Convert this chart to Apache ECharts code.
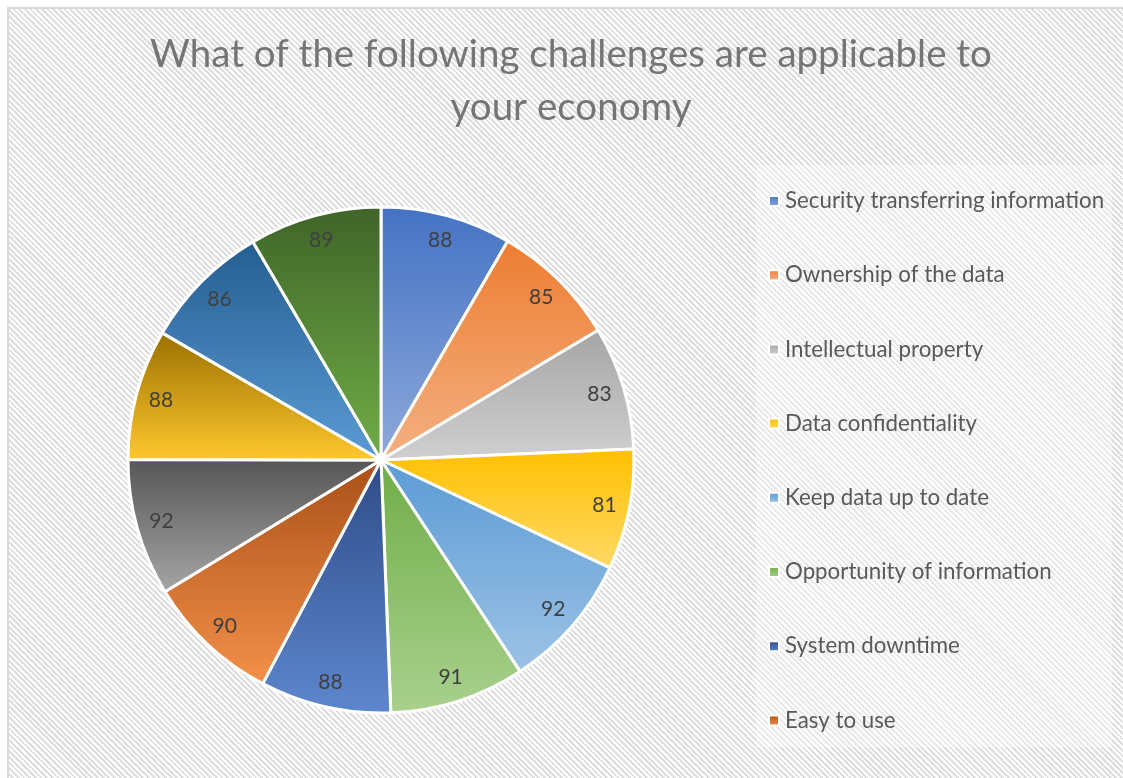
<!DOCTYPE html>
<html>
<head>
<meta charset="utf-8">
<script src="https://cdn.jsdelivr.net/npm/echarts@6/dist/echarts.min.js"></script>
<style>
  html, body { margin: 0; padding: 0; background: #ffffff; }
  #frame {
    position: absolute; left: 7px; top: 7px; width: 1130px; height: 790px;
    box-sizing: border-box; border: 2px solid #d9d9d9;
    background: repeating-linear-gradient(45deg, #ffffff 0px, #ffffff 2px, #dedede 2px, #dedede 4px);
  }
  #chart { position: absolute; left: 0; top: 0; width: 1123px; height: 778px; }
</style>
</head>
<body>
<div id="frame"></div>
<div id="chart"></div>
<script>
// ---- data ----
const titleLines = ['What of the following challenges are applicable to', 'your economy'];
const categories = [
  'Security transferring information',
  'Ownership of the data',
  'Intellectual property',
  'Data confidentiality',
  'Keep data up to date',
  'Opportunity of information',
  'System downtime',
  'Easy to use',
  'Item 9',
  'Item 10',
  'Item 11',
  'Item 12'
];
const values = [88, 85, 83, 81, 92, 91, 88, 90, 92, 88, 86, 89];
const legendShown = categories.slice(0, 8);
// gradient colours (top, bottom) per slice
const topColors = ['#4472C4', '#ED7D31', '#A5A5A5', '#FFC000', '#5B9BD5', '#70AD47',
                   '#2E4B86', '#A84F18', '#555555', '#9A7000', '#255E91', '#3F6428'];
const bottomColors = ['#8EA9DB', '#F4B183', '#D0D0D0', '#FFD966', '#9DC3E6', '#A9D18E',
                      '#5E87CF', '#F4914A', '#A6A6A6', '#FFC82E', '#5B9BD5', '#70AD47'];

const chart = echarts.init(document.getElementById('chart'), null, { renderer: 'canvas' });
const FONT = 'Lato';

const mainData = categories.map((name, i) => ({
  name: name,
  value: values[i],
  itemStyle: {
    color: new echarts.graphic.LinearGradient(0, 0, 0, 1, [
      { offset: 0, color: topColors[i] },
      { offset: 1, color: bottomColors[i] }
    ])
  }
}));

const labelData = values.map(v => ({ value: v }));

chart.setOption({
  backgroundColor: 'transparent',
  animation: false,
  title: {
    text: titleLines.join('\n'),
    left: 571,
    top: 28,
    padding: 0,
    textAlign: 'center',
    textStyle: {
      fontFamily: FONT,
      fontSize: 38.5,
      fontWeight: 'normal',
      color: '#757575',
      lineHeight: 53
    }
  },
  legend: {
    orient: 'vertical',
    left: 756,
    top: 165,
    padding: [25, 8, 16, 12],
    backgroundColor: 'rgba(255,255,255,0.35)',
    data: legendShown,
    icon: 'rect',
    itemWidth: 10,
    itemHeight: 10,
    itemGap: 52.2,
    selectedMode: false,
    textStyle: {
      fontFamily: FONT,
      fontSize: 22.3,
      lineHeight: 22,
      color: '#595959',
      padding: [0, 0, 0, 1]
    }
  },
  series: [
    {
      type: 'pie',
      center: [381, 460],
      radius: [0, 253],
      startAngle: 90,
      clockwise: true,
      avoidLabelOverlap: false,
      silent: true,
      label: { show: false },
      labelLine: { show: false },
      itemStyle: { borderColor: '#ffffff', borderWidth: 3 },
      data: mainData
    },
    {
      type: 'pie',
      center: [381, 460],
      radius: [197, 253],
      startAngle: 90,
      clockwise: true,
      silent: true,
      avoidLabelOverlap: false,
      itemStyle: { color: 'rgba(0,0,0,0)', borderWidth: 0 },
      label: {
        show: true,
        position: 'inside',
        formatter: '{c}',
        fontFamily: FONT,
        fontSize: 21,
        color: '#404040'
      },
      labelLine: { show: false },
      data: labelData
    }
  ]
});
</script>
</body>
</html>
